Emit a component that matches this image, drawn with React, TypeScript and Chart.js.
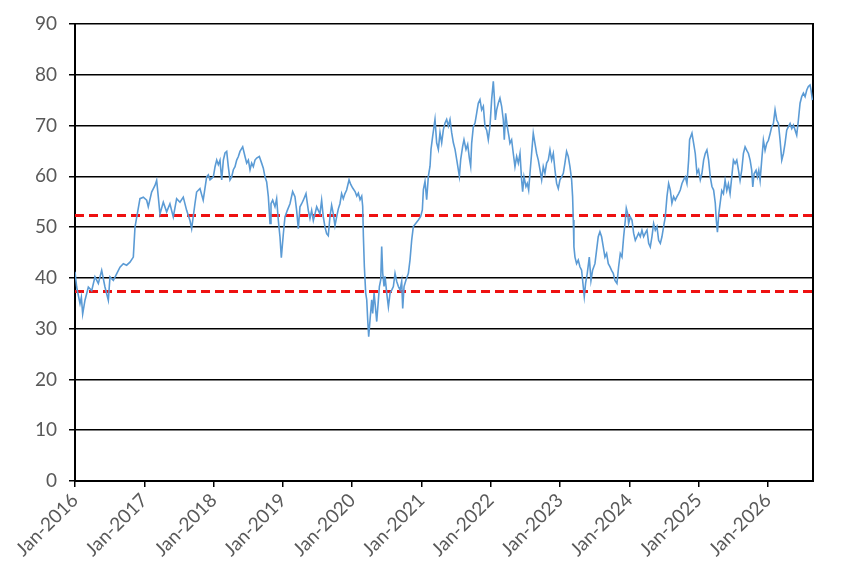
import { useEffect, useRef } from 'react';
import { Chart, registerables } from 'chart.js';

Chart.register(...registerables);

// months since Jan-2016
const months = [
  0.0, 0.29, 0.87, 1.1, 1.33, 1.73, 2.31, 2.89, 3.46, 4.04, 4.62, 5.19, 5.77, 6.06, 6.64, 7.21, 7.79, 8.37, 8.94, 9.52,
  10.1, 10.39, 10.79, 11.25, 11.83, 12.41, 12.69, 13.27, 13.85, 14.14, 14.43, 14.71, 15.29, 15.87, 16.44, 17.02, 17.6, 18.18, 18.75, 19.33,
  19.91, 20.2, 20.77, 21.06, 21.64, 22.2, 22.8, 23.09, 23.38, 23.96, 24.25, 24.54, 24.82, 25.11, 25.4, 25.69, 25.98, 26.27, 26.55, 26.84,
  27.13, 27.42, 27.71, 28.0, 28.29, 28.57, 29.04, 29.44, 29.73, 30.02, 30.31, 30.59, 30.88, 31.17, 31.46, 31.92, 32.32, 32.61, 32.9, 33.19,
  33.48, 33.77, 33.94, 34.23, 34.63, 34.92, 35.21, 35.5, 35.73, 36.08, 36.36, 36.77, 37.23, 37.69, 38.09, 38.38, 38.67, 38.96, 39.25, 39.54,
  40.0, 40.4, 40.69, 40.98, 41.27, 41.56, 41.85, 42.13, 42.42, 42.71, 43.0, 43.29, 43.58, 43.86, 44.15, 44.44, 44.73, 45.02, 45.31, 45.6,
  45.88, 46.17, 46.46, 46.75, 47.04, 47.46, 47.75, 48.09, 48.5, 48.79, 49.07, 49.36, 49.65, 49.82, 49.94, 50.11, 50.34, 50.52, 50.69, 50.86,
  51.09, 51.38, 51.55, 51.79, 52.02, 52.25, 52.54, 52.71, 52.94, 53.11, 53.29, 53.52, 53.69, 53.98, 54.27, 54.56, 54.84, 55.13, 55.42, 55.71,
  56.0, 56.29, 56.57, 56.75, 56.98, 57.32, 57.73, 58.02, 58.31, 58.59, 59.06, 59.46, 59.86, 60.15, 60.33, 60.61, 60.9, 61.19, 61.48, 61.65,
  61.94, 62.34, 62.63, 62.92, 63.21, 63.5, 63.79, 64.08, 64.36, 64.65, 64.94, 65.23, 65.52, 65.81, 66.1, 66.56, 66.79, 67.13, 67.36, 67.71,
  68.0, 68.29, 68.52, 68.69, 68.98, 69.27, 69.55, 69.84, 70.13, 70.42, 70.71, 71.0, 71.29, 71.57, 71.86, 72.15, 72.44, 72.61, 72.79, 73.02,
  73.3, 73.59, 73.88, 74.17, 74.34, 74.57, 74.86, 75.15, 75.32, 75.61, 75.9, 76.19, 76.48, 76.77, 77.06, 77.34, 77.52, 77.75, 78.09, 78.32,
  78.56, 78.79, 79.07, 79.36, 79.65, 79.94, 80.23, 80.52, 80.81, 81.09, 81.38, 81.67, 81.96, 82.25, 82.54, 82.83, 83.11, 83.4, 83.69, 83.98,
  84.27, 84.56, 84.84, 85.13, 85.42, 85.71, 86.0, 86.17, 86.29, 86.4, 86.58, 86.86, 87.15, 87.44, 87.73, 88.02, 88.19, 88.42, 88.71, 89.06,
  89.35, 89.63, 90.04, 90.33, 90.61, 90.9, 91.19, 91.48, 91.77, 92.06, 92.35, 92.63, 92.92, 93.21, 93.5, 93.85, 94.14, 94.43, 94.72, 95.01,
  95.3, 95.47, 95.7, 95.87, 96.16, 96.45, 96.74, 97.03, 97.32, 97.6, 97.89, 98.18, 98.47, 98.76, 99.05, 99.34, 99.62, 99.91, 100.2, 100.49,
  100.78, 101.07, 101.36, 101.64, 101.93, 102.22, 102.51, 102.8, 103.09, 103.37, 103.66, 103.95, 104.24, 104.53, 104.82, 105.11, 105.39, 105.68, 105.97, 106.26,
  106.43, 106.84, 107.13, 107.41, 107.7, 107.99, 108.28, 108.57, 108.86, 109.14, 109.43, 109.72, 110.01, 110.3, 110.59, 110.88, 111.05, 111.25, 111.48, 111.71,
  112.0, 112.29, 112.58, 112.87, 113.15, 113.44, 113.73, 114.02, 114.31, 114.6, 114.89, 115.17, 115.46, 115.75, 116.04, 116.33, 116.62, 116.91, 117.19, 117.37,
  117.6, 117.94, 118.17, 118.41, 118.64, 118.92, 119.21, 119.5, 119.79, 120.08, 120.37, 120.66, 120.94, 121.23, 121.52, 121.81, 122.1, 122.39, 122.68, 122.96,
  123.25, 123.54, 123.83, 124.12, 124.41, 124.7, 124.98, 125.27, 125.56, 125.85, 126.14, 126.43, 126.72, 127.0, 127.29, 127.46, 127.7,
];

const values = [
  41.2, 38.2, 34.9, 36.2, 32.9, 35.6, 38.2, 37.5, 40.2, 38.9, 41.5, 38.2, 35.6, 40.2, 39.5, 40.8, 42.1, 42.8, 42.5, 43.1,
  44.1, 50.0, 52.6, 55.6, 55.9, 55.3, 54.0, 56.9, 58.2, 59.2, 55.9, 52.6, 54.9, 53.0, 54.6, 52.0, 55.6, 54.9, 55.9, 53.3,
  51.3, 49.7, 54.6, 56.9, 57.6, 55.3, 59.9, 60.3, 59.3, 59.9, 61.9, 63.2, 62.3, 63.2, 59.3, 63.2, 64.6, 64.9, 61.9, 59.3,
  59.9, 61.3, 61.9, 63.2, 63.9, 64.9, 65.8, 63.9, 62.6, 63.2, 61.3, 62.6, 61.9, 63.2, 63.6, 63.9, 62.6, 61.6, 59.9, 58.9,
  56.0, 50.7, 54.6, 55.3, 54.0, 55.6, 51.3, 48.0, 44.0, 48.7, 52.0, 53.3, 54.6, 57.0, 56.0, 53.3, 49.7, 54.0, 54.6, 55.3,
  56.6, 53.3, 51.7, 53.3, 51.3, 52.6, 54.0, 53.3, 52.6, 55.3, 52.0, 50.0, 48.7, 48.3, 52.0, 54.3, 52.6, 50.3, 52.0, 53.6,
  54.6, 56.6, 55.6, 56.6, 57.3, 59.3, 58.4, 57.7, 57.0, 56.1, 56.7, 55.4, 56.1, 54.1, 48.2, 42.2, 37.0, 35.7, 31.7, 28.4,
  31.7, 35.7, 33.0, 37.0, 34.3, 31.4, 35.7, 38.3, 39.6, 46.2, 40.9, 38.3, 40.3, 37.0, 34.3, 37.0, 37.6, 38.3, 40.9, 39.3,
  38.3, 37.6, 39.3, 34.0, 38.3, 39.6, 40.9, 43.6, 47.5, 50.1, 50.8, 51.4, 52.1, 53.4, 57.4, 59.0, 55.4, 60.0, 62.0, 65.3,
  67.9, 71.2, 66.6, 65.3, 68.6, 66.6, 69.2, 70.5, 71.2, 69.9, 71.2, 68.6, 66.6, 65.3, 63.3, 60.0, 63.3, 65.9, 67.2, 65.3,
  66.3, 63.6, 62.0, 66.5, 69.8, 70.5, 72.4, 74.4, 75.1, 73.1, 73.8, 69.8, 69.1, 67.2, 69.8, 75.1, 78.7, 75.7, 71.1, 73.1,
  74.4, 75.4, 73.8, 71.1, 67.2, 72.4, 69.8, 67.8, 66.5, 67.2, 64.5, 61.9, 63.9, 62.6, 64.5, 59.3, 57.0, 59.9, 58.0, 58.6,
  57.3, 60.6, 64.5, 68.5, 66.5, 64.5, 63.2, 61.3, 59.3, 61.9, 60.6, 62.6, 63.2, 65.2, 63.2, 64.5, 61.3, 58.6, 57.6, 59.3,
  59.9, 60.6, 62.6, 64.9, 63.9, 61.9, 59.3, 56.0, 51.4, 46.1, 44.1, 42.8, 43.5, 42.2, 41.5, 38.2, 36.3, 38.9, 40.9, 44.1,
  39.5, 41.5, 42.8, 45.5, 48.1, 49.1, 48.1, 46.1, 44.1, 44.8, 42.8, 42.2, 41.5, 40.9, 39.5, 38.9, 42.2, 44.8, 44.1, 48.1,
  51.4, 53.7, 52.7, 50.7, 52.0, 51.4, 48.8, 47.4, 48.1, 48.8, 48.1, 49.4, 48.1, 48.8, 49.4, 46.8, 46.1, 48.1, 50.7, 49.4,
  50.1, 47.4, 46.8, 48.1, 50.1, 52.0, 56.0, 58.6, 57.3, 54.7, 56.0, 55.3, 56.0, 56.6, 57.3, 58.6, 59.3, 59.9, 58.6, 63.2,
  67.2, 68.5, 66.5, 64.5, 60.6, 61.3, 59.3, 60.6, 63.2, 64.5, 65.2, 63.2, 59.9, 58.0, 57.3, 54.7, 51.4, 49.0, 52.6, 54.6,
  57.2, 56.6, 59.2, 57.2, 58.5, 56.6, 59.9, 63.2, 62.5, 63.2, 61.2, 59.2, 61.2, 64.5, 65.8, 65.1, 64.5, 63.2, 61.2, 57.9,
  60.5, 61.2, 59.9, 61.2, 59.2, 63.2, 67.1, 65.1, 66.5, 67.1, 68.4, 69.8, 70.4, 73.1, 71.1, 70.4, 67.1, 63.2, 64.5, 66.5,
  69.1, 69.8, 70.4, 69.4, 70.1, 69.1, 68.1, 71.1, 74.4, 75.7, 76.4, 75.7, 77.0, 77.7, 78.0, 77.0, 75.0,
];

const yearLabels = [
  'Jan-2016', 'Jan-2017', 'Jan-2018', 'Jan-2019', 'Jan-2020', 'Jan-2021',
  'Jan-2022', 'Jan-2023', 'Jan-2024', 'Jan-2025', 'Jan-2026',
];

const upperBand = 52.3;
const lowerBand = 37.3;
const lastMonth = 127.8;

export default function App() {
  const canvasRef = useRef<HTMLCanvasElement>(null);
  const chartRef = useRef<Chart | null>(null);

  useEffect(() => {
    if (!canvasRef.current) return;
    if (chartRef.current) chartRef.current.destroy();

    const font = { family: 'Lato, "Liberation Sans", sans-serif', size: 19 };
    const seriesPoints = months.map((m, i) => ({ x: m, y: values[i] }));
    const band = (v: number) => [{ x: 0, y: v }, { x: lastMonth, y: v }];
    const dashed = {
      borderColor: '#EE1111',
      borderWidth: 3,
      borderDash: [9, 5],
      pointRadius: 0,
    };

    chartRef.current = new Chart(canvasRef.current, {
      type: 'line',
      data: {
        datasets: [
          { data: seriesPoints, borderColor: '#5B9BD5', borderWidth: 1.6, pointRadius: 0, tension: 0 },
          { data: band(upperBand), ...dashed },
          { data: band(lowerBand), ...dashed },
        ],
      },
      options: {
        animation: false,
        responsive: true,
        maintainAspectRatio: false,
        layout: { padding: { left: 0, right: 41, top: 24, bottom: 0 } },
        plugins: { legend: { display: false }, tooltip: { enabled: false } },
        scales: {
          x: {
            type: 'linear',
            min: 0,
            max: lastMonth,
            afterFit: (s: any) => { s.height = 95; },
            grid: { drawOnChartArea: false, drawTicks: true, tickLength: 6, color: '#000', lineWidth: 1.5 },
            border: { color: '#000', width: 2 },
            ticks: {
              stepSize: 12,
              includeBounds: false,
              minRotation: 45,
              maxRotation: 45,
              color: '#595959',
              font,
              padding: 2,
              callback: (v: any) => yearLabels[Math.round(Number(v) / 12)] ?? '',
            },
          },
          y: {
            min: 0,
            max: 90,
            afterFit: (s: any) => { s.width = 75; },
            grid: { color: '#000', lineWidth: 1.5, tickLength: 6 },
            border: { color: '#000', width: 2 },
            ticks: { stepSize: 10, color: '#595959', font, padding: 12 },
          },
          yRight: {
            position: 'right',
            min: 0,
            max: 90,
            afterFit: (s: any) => { s.width = 0; },
            grid: { drawOnChartArea: false, drawTicks: false },
            border: { color: '#000', width: 2 },
            ticks: { display: false },
          },
        },
      },
    } as any);

    return () => {
      if (chartRef.current) {
        chartRef.current.destroy();
        chartRef.current = null;
      }
    };
  }, []);

  return (
    <div style={{ position: 'fixed', left: 0, top: 0, width: 854, height: 576, background: '#fff' }}>
      <canvas ref={canvasRef} />
    </div>
  );
}
